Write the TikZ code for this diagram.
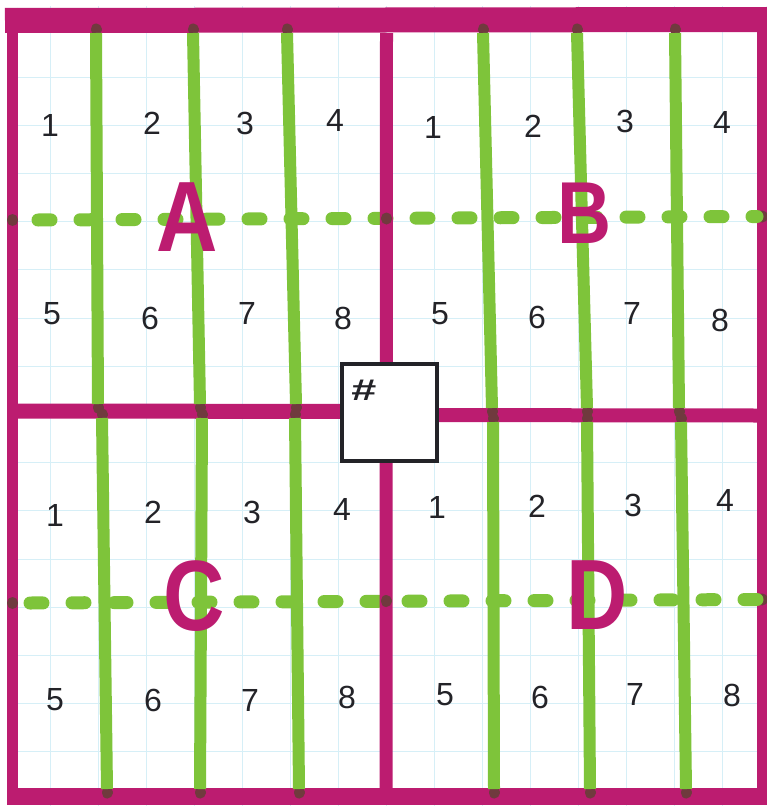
\documentclass[tikz,border=0pt]{standalone}
\usepackage{fontspec}
\setmainfont{Liberation Sans}
\definecolor{mag}{RGB}{188,28,112}
\definecolor{grn}{RGB}{126,196,58}
\definecolor{gridc}{RGB}{214,239,247}
\definecolor{ink}{RGB}{35,35,40}
\definecolor{mix}{RGB}{112,58,62}
\tikzset{
  magline/.style={draw=mag},
  grnline/.style={draw=grn, line width=12},
  endblob/.style={draw=mix, line width=11, line cap=round},
  dashline/.style={draw=grn, line width=13, line cap=round, dash pattern=on 13pt off 29pt},
  digit/.style={text=ink, inner sep=0pt, font=\fontsize{32}{32}\selectfont},
  letter/.style={text=mag, inner sep=0pt, xscale=0.85, font=\bfseries\fontsize{100}{100}\selectfont},
}
\begin{document}
\begin{tikzpicture}[x=1pt,y=-1pt]
\useasboundingbox (0,0) rectangle (767,808);
\fill[white] (0,0) rectangle (767,808);
% graph paper grid
\begin{scope}
\clip (7,7) rectangle (767,805);
\foreach \x in {2,50,...,770} \draw[gridc, line width=1] (\x,0) -- (\x,808);
\foreach \k in {0,...,16} \draw[gridc, line width=1] (0,{28.8+48.2*\k}) -- (767,{28.8+48.2*\k});
\end{scope}
% magenta frame and horizontal cross bars
\draw[magline, line width=25] (5,20.5) -- (767,19.5);
\draw[magline, line width=11] (12.5,8) -- (12.5,805);
\draw[magline, line width=11] (762,8) -- (762,805);
\draw[magline, line width=17] (7,796.5) -- (767,796.5);
\draw[magline, line width=15] (18,411) -- (380,411.5);
\draw[magline, line width=14] (393,415) -- (757,415.5);
% green dashed lines
\draw[endblob] (12.5,219.5) -- (12.5,220.5);
\draw[endblob] (762,216) -- (762,217);
\draw[endblob] (12.5,602.5) -- (12.5,603.5);
\draw[endblob] (762,599) -- (762,600);
\draw[dashline] (38,220) -- (757,216.5);
\draw[dashline] (30,603) -- (757,599.5);
% middle vertical bar, over the dashes
\draw[magline, line width=13] (386.5,33) -- (386,790);
\draw[endblob] (386.5,218) -- (386.5,219);
\draw[endblob] (386,600.5) -- (386,601.5);
% green vertical lines
\foreach \xa/\ya/\xb/\yb in {
  96/33/98/404, 193/33/200/404, 287/33/296/404,
  483/33/492/408, 577/33/587/408, 675/33/679/408,
  102/418/107/789, 202/418/200/789, 295/418/299/789,
  493/422/494/789, 587/422/590/789, 681/422/686/789}{
  \draw[endblob] ({\xa},{\ya-4}) -- ({\xa},{\ya-3});
  \draw[endblob] ({\xb},{\yb+3}) -- ({\xb},{\yb+4});
  \draw[grnline] (\xa,\ya) -- (\xb,\yb);
}
% centre box
\node[draw=ink, line width=4, fill=white, minimum width=95pt, minimum height=97pt, inner sep=0pt] (box) at (389.5,412.5) {};
\node[text=ink, inner sep=0pt, xscale=1.5, font=\bfseries\fontsize{30}{30}\selectfont] (hash) at (364,390) {\#};
% quadrant A
\node[digit] (a1) at (50,125) {1};
\node[digit] (a2) at (152,123) {2};
\node[digit] (a3) at (245,123) {3};
\node[digit] (a4) at (335,120) {4};
\node[digit] (a5) at (52,314) {5};
\node[digit] (a6) at (150,318) {6};
\node[digit] (a7) at (247,313) {7};
\node[digit] (a8) at (343,318) {8};
% quadrant B
\node[digit] (b1) at (433,127) {1};
\node[digit] (b2) at (533,126) {2};
\node[digit] (b3) at (625,121) {3};
\node[digit] (b4) at (722,122) {4};
\node[digit] (b5) at (440,314) {5};
\node[digit] (b6) at (537,317) {6};
\node[digit] (b7) at (632,313) {7};
\node[digit] (b8) at (720,320) {8};
% quadrant C
\node[digit] (c1) at (55,515) {1};
\node[digit] (c2) at (153,512) {2};
\node[digit] (c3) at (252,512) {3};
\node[digit] (c4) at (342,509) {4};
\node[digit] (c5) at (55,700) {5};
\node[digit] (c6) at (153,700) {6};
\node[digit] (c7) at (250,700) {7};
\node[digit] (c8) at (347,697) {8};
% quadrant D
\node[digit] (d1) at (437,507) {1};
\node[digit] (d2) at (537,506) {2};
\node[digit] (d3) at (633,505) {3};
\node[digit] (d4) at (725,500) {4};
\node[digit] (d5) at (445,695) {5};
\node[digit] (d6) at (540,697) {6};
\node[digit] (d7) at (635,694) {7};
\node[digit] (d8) at (732,695) {8};
% quadrant letters
\node[letter] (A) at (187,217) {A};
\node[letter, font=\bfseries\fontsize{88}{88}\selectfont] (B) at (585,213) {B};
\node[letter] (C) at (194,596) {C};
\node[letter] (D) at (597,595) {D};
\end{tikzpicture}
\end{document}
